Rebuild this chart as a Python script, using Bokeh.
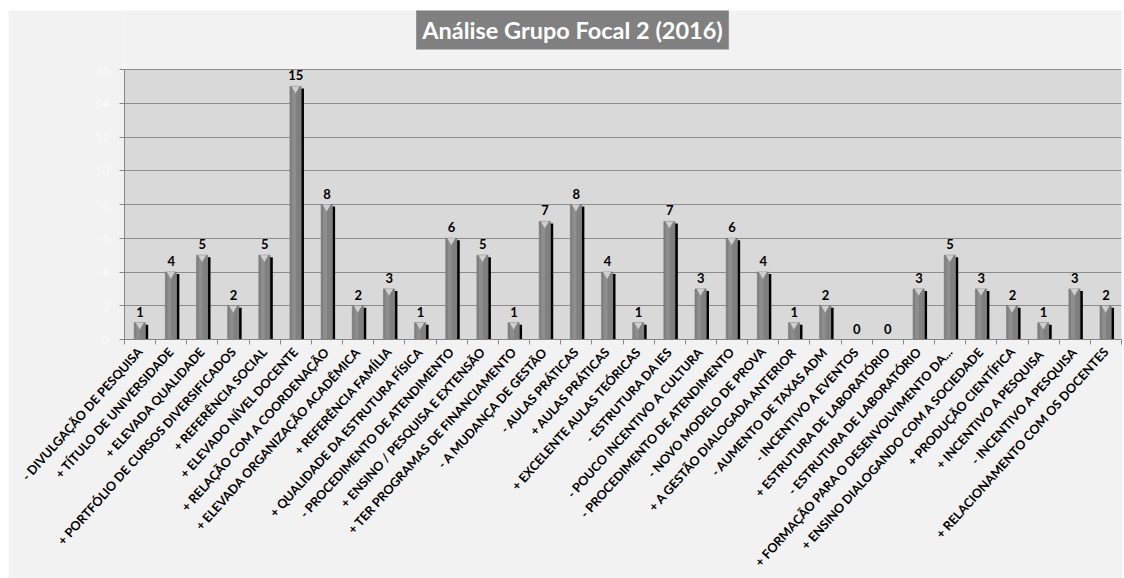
import math
from bokeh.plotting import figure
from bokeh.models import ColumnDataSource, FixedTicker, Range1d, Label
from bokeh.transform import dodge
from bokeh.core.properties import value
from bokeh.embed import file_html
from bokeh.resources import INLINE

categories = [
    "- DIVULGAÇÃO DE PESQUISA",
    "+ TÍTULO DE UNIVERSIDADE",
    "+ ELEVADA QUALIDADE",
    "+ PORTFÓLIO DE CURSOS DIVERSIFICADOS",
    "+ REFERÊNCIA SOCIAL",
    "+ ELEVADO NÍVEL DOCENTE",
    "+ RELAÇÃO COM A COORDENAÇÃO",
    "+ ELEVADA ORGANIZAÇÃO ACADÊMICA",
    "+ REFERÊNCIA FAMÍLIA",
    "+ QUALIDADE DA ESTRUTURA FÍSICA",
    "- PROCEDIMENTO DE ATENDIMENTO",
    "+ ENSINO / PESQUISA E EXTENSÃO",
    "+ TER PROGRAMAS DE FINANCIAMENTO",
    "- A MUDANÇA DE GESTÃO",
    "- AULAS PRÁTICAS",
    "+ AULAS PRÁTICAS",
    "+ EXCELENTE AULAS TEÓRICAS",
    "- ESTRUTURA DA IES",
    "- POUCO INCENTIVO A CULTURA",
    "- PROCEDIMENTO DE ATENDIMENTO",
    "- NOVO MODELO DE PROVA",
    "+ A GESTÃO DIALOGADA ANTERIOR",
    "- AUMENTO DE TAXAS ADM",
    "- INCENTIVO A EVENTOS",
    "+ ESTRUTURA DE LABORATÓRIO",
    "- ESTRUTURA DE LABORATÓRIO",
    "+ FORMAÇÃO PARA O DESENVOLVIMENTO DA...",
    "+ ENSINO DIALOGANDO COM A SOCIEDADE",
    "+ PRODUÇÃO CIENTÍFICA",
    "+ INCENTIVO A  PESQUISA",
    "- INCENTIVO A PESQUISA",
    "+ RELACIONAMENTO COM OS DOCENTES",
]
counts = [1, 4, 5, 2, 5, 15, 8, 2, 3, 1, 6, 5, 1, 7, 8, 4, 1, 7, 3, 6, 4, 1, 2, 0, 0, 3, 5, 3, 2, 1, 3, 2]
y_ticks = [0, 2, 4, 6, 8, 10, 12, 14, 16]
y_max = 16
title_text = "Análise Grupo Focal 2 (2016)"

n = len(categories)
idx = list(range(n))
nz = [i for i in idx if counts[i] > 0]

src_all = ColumnDataSource(dict(x=idx, y=counts, lbl=[str(c) for c in counts]))
src_nz = ColumnDataSource(dict(
    x=[idx[i] for i in nz],
    y=[counts[i] for i in nz],
    shade=[max(counts[i] - 0.12, 0) for i in nz],
))

# frame spans the title area too; plot area (0..16) is 270 px of 329 px
p = figure(
    width=1114, height=568,
    x_range=Range1d(-0.5, n - 0.5),
    y_range=Range1d(0, y_max * 329 / 270),
    output_backend="svg", toolbar_location=None,
    min_border_left=116, min_border_right=1, min_border_top=0, min_border_bottom=239,
    background_fill_color="#f2f2f2", border_fill_color="#f2f2f2",
    outline_line_color=None,
)
p.margin = (10, 2, 0, 8)

# plot area background
p.quad(left=[-0.5], right=[n - 0.5], bottom=[0], top=[y_max],
       fill_color="#d9d9d9", line_color=None, level="underlay")

# bars
p.vbar(x=dodge("x", 0.215, range=p.x_range), top="shade", width=0.09, source=src_nz,
       fill_color="#000000", line_color=None)
p.vbar(x=dodge("x", -0.01, range=p.x_range), top="y", width=0.36, source=src_nz,
       fill_color="#808080", line_color="#6e6e6e", line_width=0.5)
p.vbar(x=dodge("x", -0.06, range=p.x_range), top="y", width=0.12, source=src_nz,
       fill_color="#8e8e8e", line_color=None)
p.scatter(x=dodge("x", -0.01, range=p.x_range), y=dodge("y", -0.14), source=src_nz,
          marker="inverted_triangle", size=8, fill_color="#cfcfcf", line_color=None)

# value labels
p.text(x="x", y="y", text="lbl", source=src_all, y_offset=-6,
       text_align="center", text_baseline="bottom",
       text_font=value("Lato"), text_font_style="bold", text_font_size="13px",
       text_color="#000000")

# axes
p.xaxis.ticker = FixedTicker(ticks=idx, minor_ticks=[i - 0.5 for i in idx] + [n - 0.5])
p.xaxis.major_label_overrides = {i: c for i, c in zip(idx, categories)}
p.xaxis.major_label_orientation = 0.84
p.xaxis.major_label_text_font = "Lato"
p.xaxis.major_label_text_font_style = "bold"
p.xaxis.major_label_text_font_size = "12.6px"
p.xaxis.major_label_text_color = "#000000"
p.xaxis.major_tick_line_color = None
p.xaxis.minor_tick_line_color = "#868686"
p.xaxis.minor_tick_out = 5
p.xaxis.minor_tick_in = 0
p.xaxis.axis_line_color = "#868686"
p.xaxis.major_label_standoff = 4

p.yaxis.ticker = FixedTicker(ticks=y_ticks)
p.yaxis.bounds = (0, y_max)
p.yaxis.major_label_text_color = "#fbfbfb"
p.yaxis.major_label_text_font = "Lato"
p.yaxis.major_label_text_font_size = "12px"
p.yaxis.major_tick_out = 5
p.yaxis.major_tick_in = 0
p.yaxis.major_tick_line_color = "#868686"
p.yaxis.axis_line_color = "#868686"
p.yaxis.minor_tick_line_color = None
p.yaxis.major_label_standoff = 10

p.xgrid.grid_line_color = None
p.ygrid.grid_line_color = "#8c8c8c"
p.ygrid.grid_line_width = 1

# title box
p.add_layout(Label(
    x=448, y=310, x_units="screen", y_units="screen", text=title_text,
    text_align="center", text_baseline="middle",
    text_font="Lato", text_font_style="bold", text_font_size="23.5px",
    text_color="#ffffff", background_fill_color="#808080",
    padding=6,
))

open("out.html", "w").write(file_html(p, INLINE))
